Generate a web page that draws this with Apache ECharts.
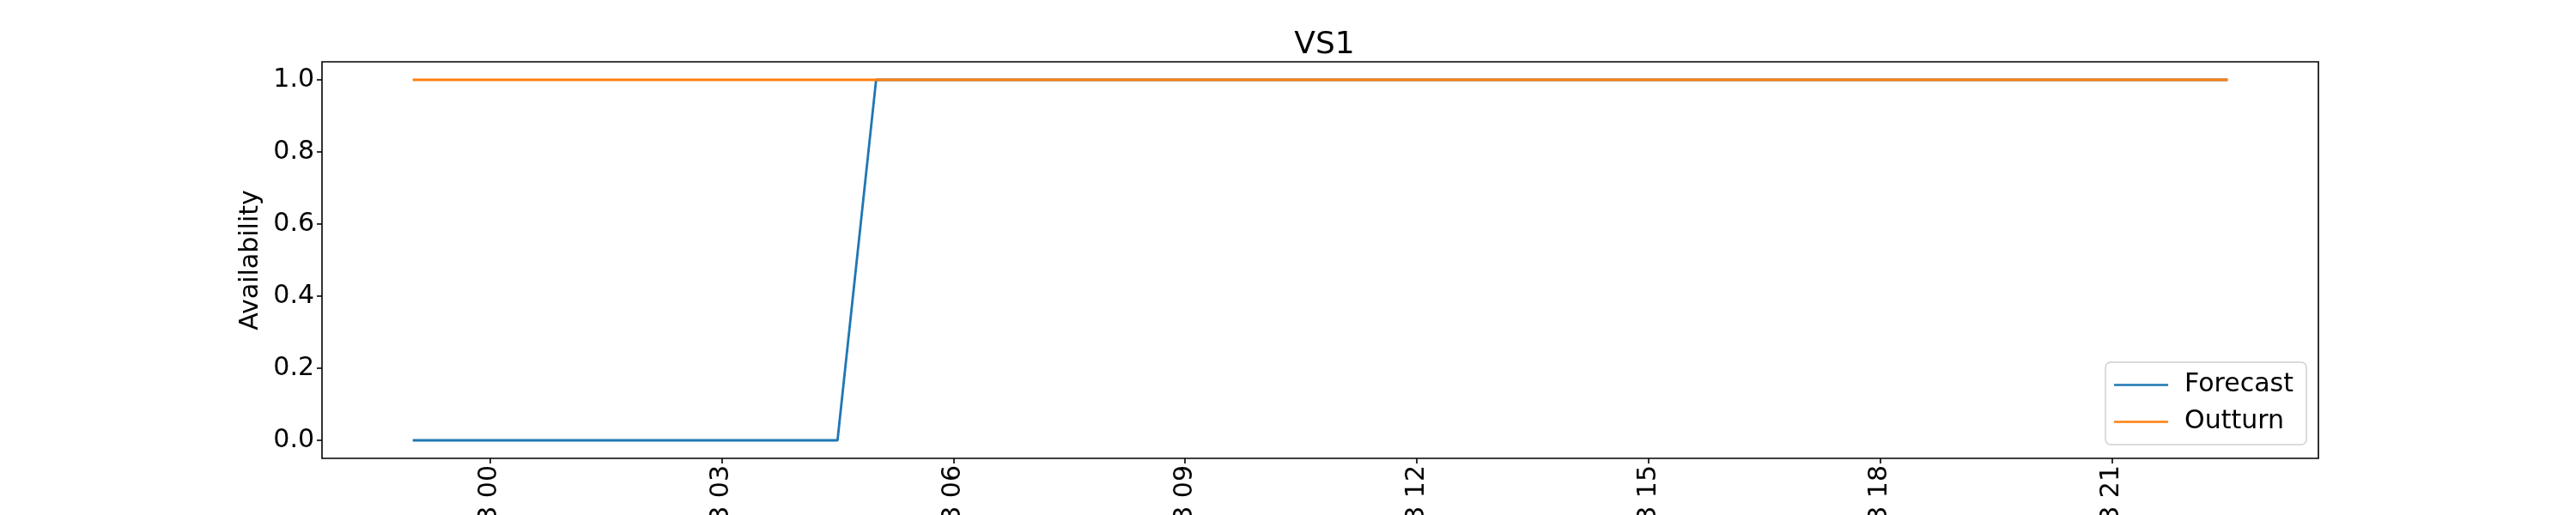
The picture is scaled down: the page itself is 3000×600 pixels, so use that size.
<!DOCTYPE html>
<html>
<head>
<meta charset="utf-8">
<script src="https://cdn.jsdelivr.net/npm/echarts@6/dist/echarts.min.js"></script>
<style>html,body{margin:0;padding:0;background:#fff}#c{width:3000px;height:600px}</style>
</head>
<body>
<div id="c"></div>
<script>
const times = [
  "2023-10-12T23:00","2023-10-12T23:30","2023-10-13T00:00","2023-10-13T00:30",
  "2023-10-13T01:00","2023-10-13T01:30","2023-10-13T02:00","2023-10-13T02:30",
  "2023-10-13T03:00","2023-10-13T03:30","2023-10-13T04:00","2023-10-13T04:30",
  "2023-10-13T05:00","2023-10-13T05:30","2023-10-13T06:00","2023-10-13T06:30",
  "2023-10-13T07:00","2023-10-13T07:30","2023-10-13T08:00","2023-10-13T08:30",
  "2023-10-13T09:00","2023-10-13T09:30","2023-10-13T10:00","2023-10-13T10:30",
  "2023-10-13T11:00","2023-10-13T11:30","2023-10-13T12:00","2023-10-13T12:30",
  "2023-10-13T13:00","2023-10-13T13:30","2023-10-13T14:00","2023-10-13T14:30",
  "2023-10-13T15:00","2023-10-13T15:30","2023-10-13T16:00","2023-10-13T16:30",
  "2023-10-13T17:00","2023-10-13T17:30","2023-10-13T18:00","2023-10-13T18:30",
  "2023-10-13T19:00","2023-10-13T19:30","2023-10-13T20:00","2023-10-13T20:30",
  "2023-10-13T21:00","2023-10-13T21:30","2023-10-13T22:00","2023-10-13T22:30"
];
const forecast = [
  0,0,0,0,0,0,0,0,0,0,0,0,
  1,1,1,1,1,1,1,1,1,1,1,1,
  1,1,1,1,1,1,1,1,1,1,1,1,
  1,1,1,1,1,1,1,1,1,1,1,1
];
const outturn = [
  1,1,1,1,1,1,1,1,1,1,1,1,
  1,1,1,1,1,1,1,1,1,1,1,1,
  1,1,1,1,1,1,1,1,1,1,1,1,
  1,1,1,1,1,1,1,1,1,1,1,1
];
const xTickTimes = ["2023-10-13T00:00","2023-10-13T03:00","2023-10-13T06:00","2023-10-13T09:00",
                    "2023-10-13T12:00","2023-10-13T15:00","2023-10-13T18:00","2023-10-13T21:00"];
const xTickLabels = ["10-13 00","10-13 03","10-13 06","10-13 09","10-13 12","10-13 15","10-13 18","10-13 21"];
const yTicks = [0, 0.2, 0.4, 0.6, 0.8, 1.0];
const yTickLabels = ["0.0","0.2","0.4","0.6","0.8","1.0"];

// convert timestamps to hours relative to the first tick (axis unit)
const ref = new Date(xTickTimes[0]).getTime();
const toH = t => (new Date(t).getTime() - ref) / 3600000;
const xs = times.map(toH);
const tickH = xTickTimes.map(toH);
const span = xs[xs.length - 1] - xs[0];
const xMin = xs[0] - 0.05 * span, xMax = xs[xs.length - 1] + 0.05 * span;
const labelMap = {};
tickH.forEach((v, i) => labelMap[v.toFixed(3)] = xTickLabels[i]);
const yLabelMap = {};
yTicks.forEach((v, i) => yLabelMap[v.toFixed(1)] = yTickLabels[i]);

const FONT = "DejaVu Sans";
const GRID_L = 375, GRID_R = 300, W = 3000;
const chart = echarts.init(document.getElementById('c'), null, {renderer: 'canvas'});
chart.setOption({
  animation: false,
  backgroundColor: '#fff',
  title: {
    text: 'VS1', left: (GRID_L + (W - GRID_R)) / 2, top: 30, textAlign: 'center',
    textStyle: {fontFamily: FONT, fontSize: 36, fontWeight: 'normal', color: '#000'}
  },
  grid: {left: GRID_L, right: GRID_R, top: 72, bottom: 66, show: true, borderColor: '#000', borderWidth: 1.6,
         backgroundColor: 'transparent', containLabel: false, outerBoundsMode: 'none'},
  legend: {
    orient: 'vertical', right: 314, top: 422,
    backgroundColor: '#fff', borderColor: '#d0d0d0', borderWidth: 1.5, borderRadius: 6,
    padding: [5, 15, 5, 10], itemGap: 0,
    icon: 'rect', itemWidth: 63, itemHeight: 2.7,
    textStyle: {fontFamily: FONT, fontSize: 30, color: '#000', lineHeight: 43, padding: [0, 0, 0, 14]},
    data: ['Forecast', 'Outturn']
  },
  xAxis: {
    type: 'value', min: xMin, max: xMax,
    axisLine: {show: false, onZero: false},
    splitLine: {show: false},
    axisTick: {show: true, length: 6, lineStyle: {color: '#000', width: 1.6}, customValues: tickH},
    axisLabel: {
      customValues: tickH, rotate: 90, margin: 8,
      fontFamily: FONT, fontSize: 30, color: '#000',
      formatter: v => labelMap[Number(v).toFixed(3)] || ''
    }
  },
  yAxis: {
    type: 'value', min: -0.05, max: 1.05,
    name: 'Availability', nameLocation: 'middle', nameRotate: 90, nameGap: 67,
    nameTextStyle: {fontFamily: FONT, fontSize: 30, color: '#000'},
    axisLine: {show: false, onZero: false},
    splitLine: {show: false},
    axisTick: {show: true, length: 6, lineStyle: {color: '#000', width: 1.6}, customValues: yTicks},
    axisLabel: {
      customValues: yTicks, margin: 9,
      fontFamily: FONT, fontSize: 30, color: '#000',
      formatter: v => yLabelMap[Number(v).toFixed(1)]
    }
  },
  series: [
    {name: 'Forecast', type: 'line', data: xs.map((x, i) => [x, forecast[i]]), showSymbol: false, symbol: 'none',
     lineStyle: {color: '#1f77b4', width: 2.8}, itemStyle: {color: '#1f77b4'}, z: 2},
    {name: 'Outturn', type: 'line', data: xs.map((x, i) => [x, outturn[i]]), showSymbol: false, symbol: 'none',
     lineStyle: {color: '#ff7f0e', width: 2.8}, itemStyle: {color: '#ff7f0e'}, z: 3}
  ]
});
</script>
</body>
</html>
